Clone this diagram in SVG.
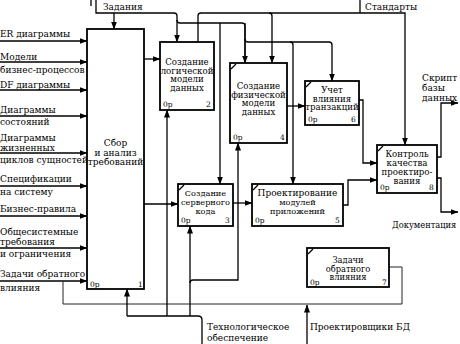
<svg xmlns="http://www.w3.org/2000/svg" width="460" height="344" viewBox="0 0 460 344">
<style>
.box{fill:#fff;stroke:#000;stroke-width:1.8}
text{font-family:"DejaVu Serif","Liberation Serif",serif;font-size:9px;fill:#000}
.b{font-size:8.6px}
.m{font-size:8.2px}
.s{font-size:7.5px}
.w{font-size:8.3px}
.c{text-anchor:middle}
.ln{fill:none;stroke:#000;stroke-width:1.3}
.thin{fill:none;stroke:#222;stroke-width:1}
.tick{stroke:#000;stroke-width:1.2}
</style>
<defs>
<marker id="a" markerWidth="8" markerHeight="6" refX="7.5" refY="3" orient="auto" markerUnits="userSpaceOnUse">
<path d="M0,0 L8,3 L0,6 z" fill="#000"/>
</marker>
</defs>
<rect width="460" height="344" fill="#fff"/>

<g id="connectors">
<path class="ln" marker-end="url(#a)" d="M0,41 H87"/>
<path class="ln" marker-end="url(#a)" d="M0,62 H87"/>
<path class="ln" marker-end="url(#a)" d="M0,90 H87"/>
<path class="ln" marker-end="url(#a)" d="M0,116 H87"/>
<path class="ln" marker-end="url(#a)" d="M0,153 H87"/>
<path class="ln" marker-end="url(#a)" d="M0,186 H87"/>
<path class="ln" marker-end="url(#a)" d="M0,216 H87"/>
<path class="ln" marker-end="url(#a)" d="M0,248 H87"/>
<path class="ln" marker-end="url(#a)" d="M0,281 H87"/>
<path class="thin" d="M389,267 H402 V304 H63 V281"/>
<path class="ln" d="M91,0 V6"/>
<path class="ln" marker-end="url(#a)" d="M96,0 V13 H174 Q177,13 177,16 V42"/>
<path class="ln" marker-end="url(#a)" d="M114,13 V29"/>
<path class="ln" d="M177,20 Q177,23 180,23 H242 Q245,23 245,26 V63"/>
<path class="ln" marker-end="url(#a)" d="M220,23 V184"/>
<path class="ln" marker-end="url(#a)" d="M245,23 V63"/>
<path class="ln" marker-end="url(#a)" d="M245,39 Q245,42 248,42 H329 Q332,42 332,45 V81"/>
<path class="ln" marker-end="url(#a)" d="M290,42 Q293,42 293,45 V184"/>
<path class="ln" d="M360,0 V13"/>
<path class="ln" marker-end="url(#a)" d="M198,42 V16 Q198,13 201,13 H405 V145"/>
<path class="ln" marker-end="url(#a)" d="M269,13 Q272,13 272,16 V63"/>
<path class="ln" marker-end="url(#a)" d="M144,59 H160"/>
<path class="ln" marker-end="url(#a)" d="M144,204 H178"/>
<path class="ln" marker-end="url(#a)" d="M287,106 H305"/>
<path class="ln" marker-end="url(#a)" d="M233,203 H252"/>
<path class="ln" marker-end="url(#a)" d="M359,100 H363 V163 H377"/>
<path class="ln" marker-end="url(#a)" d="M343,205 H348 V180 H377"/>
<path class="ln" marker-end="url(#a)" d="M437,157 H441 V103 H458"/>
<path class="ln" marker-end="url(#a)" d="M437,178 H441 V212 H458"/>
<path class="ln" d="M202,344 V320 Q202,316 198,316 H127"/>
<path class="ln" marker-end="url(#a)" d="M127,316 V289"/>
<path class="ln" marker-end="url(#a)" d="M167,316 V110"/>
<path class="ln" marker-end="url(#a)" d="M190,316 V226"/>
<path class="ln" marker-end="url(#a)" d="M190,283 Q190,280 193,280 H238 V143"/>
<path class="ln" marker-end="url(#a)" d="M307,344 V305"/>
</g>

<g id="labels">
<text x="0" y="37">ER диаграммы</text>
<text x="0" y="60">Модели</text>
<text x="0" y="73">бизнес-процессов</text>
<text x="0" y="88">DF диаграммы</text>
<text x="0" y="113">Диаграммы</text>
<text x="0" y="125">состояний</text>
<text x="0" y="141">Диаграммы</text>
<text x="0" y="151">жизненных</text>
<text x="0" y="163">циклов сущностей</text>
<text x="0" y="182">Спецификации</text>
<text x="0" y="195">на систему</text>
<text x="0" y="212">Бизнес-правила</text>
<text x="0" y="235">Общесистемные</text>
<text x="0" y="245">требования</text>
<text x="0" y="257">и ограничения</text>
<text x="0" y="277">Задачи обратного</text>
<text x="0" y="291">влияния</text>
<text x="103" y="10">Задания</text>
<text x="365" y="10">Стандарты</text>
<text x="422" y="81">Скрипт</text>
<text x="422" y="91">базы</text>
<text x="422" y="101">данных</text>
<text class="w" x="392" y="228">Документация</text>
<text x="207" y="330">Технологическое</text>
<text x="207" y="341">обеспечение</text>
<text x="310" y="330">Проектировщики БД</text>
</g>

<g id="box1">
<rect class="box" x="87" y="29" width="57" height="260"/>
<text class="c" x="115.5" y="146">Сбор</text>
<text class="c" x="115.5" y="155.5">и анализ</text>
<text class="c" x="115.5" y="165">требований</text>
<text class="s" x="90" y="287">0р</text>
<text class="s" x="138" y="287">1</text>
</g>
<g id="box2">
<rect class="box" x="160" y="42" width="54" height="68"/>
<text class="b c" x="187" y="65">Создание</text>
<text class="b c" x="187" y="73.5">логической</text>
<text class="b c" x="187" y="82">модели</text>
<text class="b c" x="187" y="90.5">данных</text>
<text class="s" x="163" y="107">0р</text>
<text class="s" x="206" y="107">2</text>
</g>
<g id="box4">
<rect class="box" x="230" y="63" width="57" height="80"/>
<line class="tick" x1="231" y1="69" x2="236" y2="64"/>
<text class="b c" x="258.5" y="89">Создание</text>
<text class="b c" x="258.5" y="97.5">физической</text>
<text class="b c" x="258.5" y="106">модели</text>
<text class="b c" x="258.5" y="114.5">данных</text>
<text class="s" x="233" y="140">0р</text>
<text class="s" x="280" y="140">4</text>
</g>
<g id="box6">
<rect class="box" x="305" y="81" width="54" height="44"/>
<line class="tick" x1="306" y1="87" x2="311" y2="82"/>
<text class="b c" x="332" y="93">Учет</text>
<text class="b c" x="332" y="101.5">влияния</text>
<text class="b c" x="332" y="110">транзакций</text>
<text class="s" x="308" y="122">0р</text>
<text class="s" x="351" y="122">6</text>
</g>
<g id="box3">
<rect class="box" x="178" y="184" width="55" height="42"/>
<line class="tick" x1="179" y1="190" x2="184" y2="185"/>
<text class="m c" x="205.5" y="196">Создание</text>
<text class="m c" x="205.5" y="205">серверного</text>
<text class="m c" x="205.5" y="214">кода</text>
<text class="s" x="181" y="223">0р</text>
<text class="s" x="225" y="223">3</text>
</g>
<g id="box5">
<rect class="box" x="252" y="184" width="91" height="42"/>
<line class="tick" x1="253" y1="190" x2="258" y2="185"/>
<text class="c" x="297.5" y="196">Проектирование</text>
<text class="m c" x="297.5" y="205">модулей</text>
<text class="m c" x="297.5" y="214">приложений</text>
<text class="s" x="255" y="223">0р</text>
<text class="s" x="335" y="223">5</text>
</g>
<g id="box8">
<rect class="box" x="377" y="145" width="60" height="48"/>
<line class="tick" x1="378" y1="151" x2="383" y2="146"/>
<text class="b c" x="407" y="157">Контроль</text>
<text class="b c" x="407" y="166">качества</text>
<text class="b c" x="407" y="175">проектиро-</text>
<text class="b c" x="407" y="184">вания</text>
<text class="s" x="380" y="190">0р</text>
<text class="s" x="429" y="190">8</text>
</g>
<g id="box7">
<rect class="box" x="307" y="248" width="82" height="39"/>
<line class="tick" x1="308" y1="254" x2="313" y2="249"/>
<text class="w c" x="348" y="263">Задачи</text>
<text class="w c" x="348" y="271.5">обратного</text>
<text class="w c" x="348" y="280">влияния</text>
<text class="s" x="310" y="285">0р</text>
<text class="s" x="382" y="285">7</text>
</g>
</svg>
